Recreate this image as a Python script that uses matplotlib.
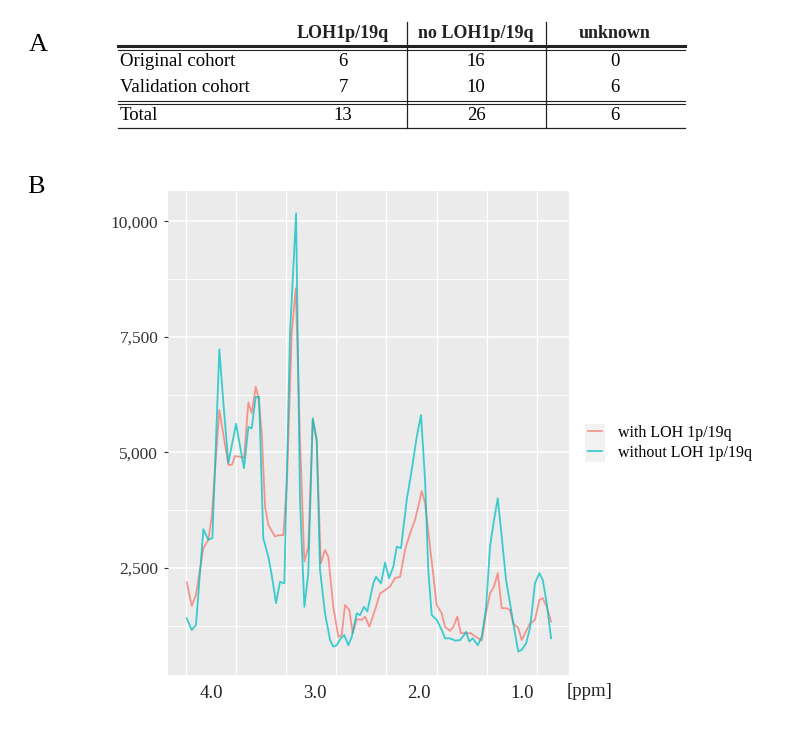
import numpy as np
import matplotlib
matplotlib.use('Agg')  # no display
import matplotlib.pyplot as plt
from matplotlib.lines import Line2D
from matplotlib.patches import Rectangle

plt.rcParams['font.family'] = ['Liberation Serif', 'DejaVu Serif']

# ---- table (panel A) ----
col_headers = ['LOH1p/19q', 'no LOH1p/19q', 'unknown']
row_names = ['Original cohort', 'Validation cohort', 'Total']
with_loh = [6, 7, 13]
no_loh = [16, 10, 26]
unknown = [0, 6, 6]

# ---- spectra (panel B) ----
series_names = ['with LOH 1p/19q', 'without LOH 1p/19q']
ppm_with = [4.234, 4.186, 4.145, 4.074, 4.026, 3.993, 3.920, 3.833, 3.800, 3.769,
            3.727, 3.682, 3.640, 3.608, 3.569, 3.544, 3.511, 3.479, 3.447, 3.383,
            3.351, 3.303, 3.267, 3.222, 3.183, 3.142, 3.100, 3.062, 3.019, 2.981,
            2.942, 2.901, 2.869, 2.821, 2.772, 2.740, 2.708, 2.666, 2.634, 2.595,
            2.547, 2.515, 2.473, 2.419, 2.370, 2.322, 2.274, 2.226, 2.177, 2.129,
            2.081, 2.033, 1.994, 1.968, 1.936, 1.888, 1.824, 1.775, 1.744, 1.695,
            1.663, 1.625, 1.592, 1.541, 1.496, 1.445, 1.390, 1.348, 1.310, 1.271,
            1.235, 1.197, 1.149, 1.117, 1.085, 1.037, 1.004, 0.972, 0.924, 0.876,
            0.834, 0.801, 0.763, 0.721]
int_with = [2190, 1680, 1920, 2930, 3110, 3610, 5920, 4730, 4730, 4920,
            4910, 4880, 6080, 5850, 6420, 6200, 5420, 3830, 3430, 3180,
            3210, 3210, 4400, 7580, 8550, 5270, 2640, 2960, 5700, 5270,
            2600, 2890, 2740, 1660, 1010, 1050, 1700, 1590, 1090, 1390,
            1380, 1450, 1230, 1590, 1950, 2020, 2100, 2280, 2310, 2890,
            3250, 3540, 3900, 4170, 3900, 2960, 1700, 1520, 1230, 1140,
            1230, 1450, 1090, 1090, 1090, 1010, 930, 1520, 1950, 2100,
            2390, 1630, 1630, 1590, 1300, 1200, 940, 1090, 1300, 1380,
            1810, 1850, 1660, 1340]
ppm_without = [4.234, 4.186, 4.145, 4.074, 4.026, 3.987, 3.920, 3.881, 3.833, 3.759,
               3.682, 3.640, 3.608, 3.569, 3.537, 3.496, 3.447, 3.415, 3.373, 3.335,
               3.293, 3.238, 3.180, 3.142, 3.100, 3.062, 3.019, 2.981, 2.949, 2.901,
               2.852, 2.821, 2.788, 2.749, 2.715, 2.676, 2.643, 2.595, 2.563, 2.525,
               2.493, 2.435, 2.409, 2.380, 2.361, 2.322, 2.284, 2.242, 2.209, 2.168,
               2.113, 2.065, 2.016, 1.975, 1.936, 1.905, 1.872, 1.824, 1.775, 1.744,
               1.695, 1.647, 1.599, 1.560, 1.541, 1.509, 1.476, 1.428, 1.390, 1.348,
               1.310, 1.271, 1.235, 1.197, 1.155, 1.117, 1.069, 1.037, 1.004, 0.962,
               0.924, 0.876, 0.834, 0.801, 0.763, 0.721]
int_without = [1410, 1160, 1270, 3340, 3110, 3150, 7230, 6070, 4770, 5620,
               4660, 5550, 5520, 6200, 6200, 3140, 2740, 2350, 1740, 2200,
               2170, 7580, 10170, 3970, 1660, 2390, 5740, 5270, 2460, 1520,
               940, 800, 830, 980, 1050, 830, 1010, 1520, 1480, 1660,
               1560, 2170, 2310, 2220, 2170, 2620, 2280, 2530, 2960, 2930,
               3970, 4620, 5340, 5810, 4400, 2460, 1480, 1380, 1160, 980,
               980, 930, 940, 1050, 1120, 910, 980, 830, 1010, 1630,
               2960, 3540, 4010, 3180, 2240, 1740, 1090, 690, 730, 870,
               1200, 2170, 2390, 2240, 1740, 980]

y_major = [2500, 5000, 7500, 10000]
y_major_labels = ['2,500', '5,000', '7,500', '10,000']
y_minor = [1250, 3750, 6250, 8750]
x_labels = [4.0, 3.0, 2.0, 1.0]
colors = ['#F8766D', '#00BFC4']

W, H = 788, 734
def fx(px): return px / W
def fy(py): return 1 - py / H

fig = plt.figure(figsize=(W / 100, H / 100), dpi=100)

# panel letters
fig.text(fx(29), fy(45), 'A', fontsize=19, ha='left', va='center')
fig.text(fx(27), fy(187), 'B', fontsize=19, ha='left', va='center')

# table
tx0, tx1 = 118, 685
col_x = [343, 476, 615]
for cx, h in zip(col_x, col_headers):
    fig.text(fx(cx), fy(33), h, fontsize=13, fontweight='bold', ha='center', va='center',
             color='#222222')
row_y = [62, 87, 116]
for ry, name, a, b, c in zip(row_y, row_names, with_loh, no_loh, unknown):
    fig.text(fx(tx0 + 2), fy(ry), name, fontsize=13.5, ha='left', va='center')
    for cx, v in zip(col_x, (a, b, c)):
        fig.text(fx(cx), fy(ry), str(v), fontsize=13.5, ha='center', va='center')

def hline(py, lw):
    fig.add_artist(Line2D([fx(tx0), fx(tx1)], [fy(py), fy(py)], color='#222222', lw=lw))
hline(46, 2.2)
hline(49.5, 0.8)
hline(101, 0.8)
hline(104, 0.8)
hline(128, 0.9)
for vx in (407, 546):
    fig.add_artist(Line2D([fx(vx), fx(vx)], [fy(22), fy(128)], color='#222222', lw=0.9))

# spectra plot
ax = fig.add_axes([fx(168), fy(675), (569 - 168) / W, (675 - 191) / H])
ax.set_facecolor('#EBEBEB')
for s in ax.spines.values():
    s.set_visible(False)
ax.plot(ppm_with, int_with, color=colors[0], lw=1.3, alpha=0.75, label=series_names[0])
ax.plot(ppm_without, int_without, color=colors[1], lw=1.3, alpha=0.75, label=series_names[1])
ax.set_xlim(4.415, 0.548)
ax.set_ylim(186, 10654)

ax.set_yticks(y_major)
ax.set_yticklabels(y_major_labels)
ax.set_yticks(y_minor, minor=True)
ax.set_xticks(x_labels)
ax.set_xticklabels(['%.1f' % v for v in x_labels])
# vertical grid lines sit between the ppm labels, as in the original
ax.set_xticks(4.244 - 0.484 * np.arange(8), minor=True)
ax.tick_params(axis='y', which='major', length=3, color='#333333', labelsize=12.5,
               labelcolor='#333333', pad=4)
ax.tick_params(axis='y', which='minor', length=0)
ax.tick_params(axis='x', which='both', length=0, labelsize=13.5, pad=7, labelcolor='#222222')
ax.grid(which='major', axis='y', color='white', lw=1.1)
ax.grid(which='minor', axis='y', color='white', lw=0.6)
ax.grid(which='minor', axis='x', color='white', lw=0.9)
ax.set_axisbelow(True)
fig.text(fx(567), fy(692), '[ppm]', fontsize=13.5, ha='left', va='center', color='#222222')

# legend
fig.add_artist(Rectangle((fx(585), fy(462)), 20 / W, 38 / H, color='#F2F2F2', lw=0))
leg = fig.legend(loc='center left', bbox_to_anchor=(fx(588), fy(443)), frameon=False,
                 fontsize=11.5, handlelength=0.9, handletextpad=0.95, labelspacing=0.25,
                 borderpad=0, borderaxespad=0)
for ln in leg.get_lines():
    ln.set_linewidth(1.3)

fig.savefig('out.png', dpi=100)
